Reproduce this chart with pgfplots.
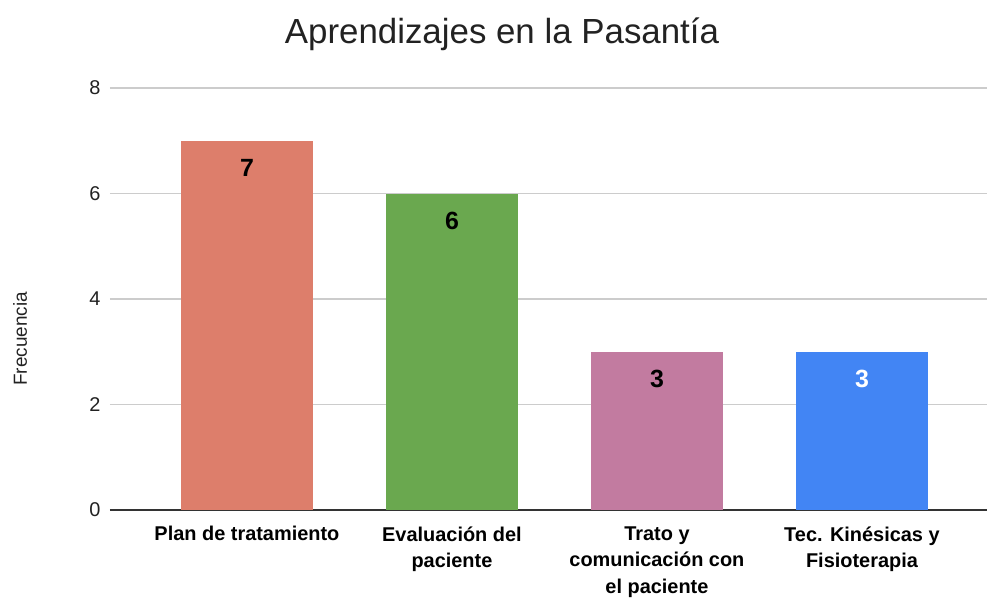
\documentclass[border=0pt]{standalone}
\usepackage{pgfplots}
\pgfplotsset{compat=1.18}
\usepackage{fontspec}
\setmainfont{Liberation Sans}
\definecolor{c1}{HTML}{DD7E6B}
\definecolor{c2}{HTML}{6AA84F}
\definecolor{c3}{HTML}{C27BA0}
\definecolor{c4}{HTML}{4285F4}
\definecolor{gridc}{HTML}{CCCCCC}
\definecolor{axc}{HTML}{333333}
\definecolor{txt}{HTML}{222222}
\begin{document}
\begin{tikzpicture}
\useasboundingbox (-110bp,-88bp) rectangle (877bp,510bp);
\begin{axis}[
  at={(0,0)}, anchor=south west,
  scale only axis,
  width=877bp, height=422bp,
  xmin=-0.668, xmax=3.61,
  ymin=0, ymax=8,
  ytick={0,2,4,6,8},
  xtick={0,1,2,3},
  xticklabels={Plan de tratamiento, Evaluación del\\paciente, Trato y\\comunicación con\\el paciente, Tec. Kinésicas y\\Fisioterapia},
  xticklabel style={align=center, font=\fontsize{20}{26.5}\selectfont\bfseries, text=black, yshift=-13bp},
  yticklabel style={font=\fontsize{20}{24}\selectfont, text=txt, xshift=-6bp},
  /pgf/number format/assume math mode=true,
  major tick length=0pt,
  axis y line*=left,
  y axis line style={draw=none},
  axis x line*=bottom,
  x axis line style={draw=axc, line width=1.2bp},
  ymajorgrids,
  grid style={draw=gridc, line width=1.2bp},
  ylabel={Frecuencia},
  ylabel style={at={(axis description cs:0,0.5)}, anchor=center, yshift=90bp, xshift=-40bp, font=\fontsize{19}{22}\selectfont, text=txt},
  ybar, bar width=0.644, bar shift=0pt,
  nodes near coords,
  every node near coord/.append style={anchor=north, yshift=-15bp, font=\fontsize{25}{28}\selectfont\bfseries},
  clip=false,
]
\addplot[fill=c1, draw=none, nodes near coords style={text=black}] coordinates {(0,7)};
\addplot[fill=c2, draw=none, nodes near coords style={text=black}] coordinates {(1,6)};
\addplot[fill=c3, draw=none, nodes near coords style={text=black}] coordinates {(2,3)};
\addplot[fill=c4, draw=none, nodes near coords style={text=white}] coordinates {(3,3)};
\end{axis}
\node[font=\fontsize{35}{40}\selectfont, text=txt] at (392bp,476bp) {Aprendizajes en la Pasantía};
\end{tikzpicture}
\end{document}
